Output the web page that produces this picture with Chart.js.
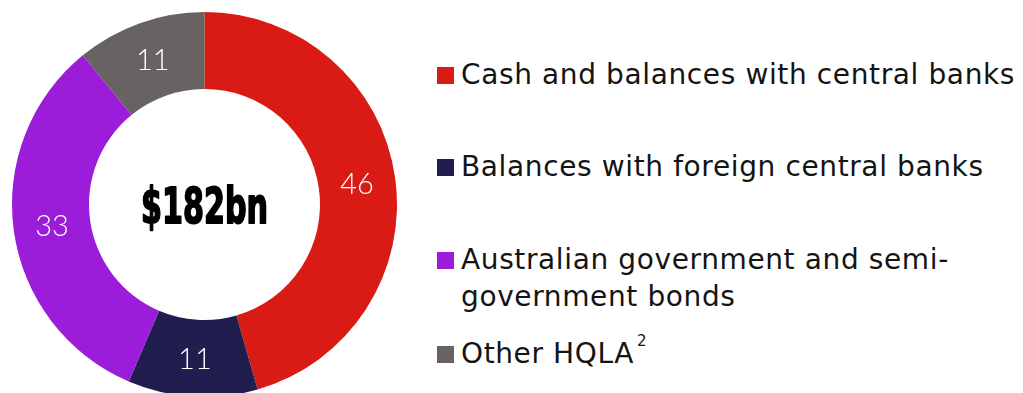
<!DOCTYPE html>
<html>
<head>
<meta charset="utf-8">
<script src="https://cdn.jsdelivr.net/npm/chart.js@4/dist/chart.umd.min.js"></script>
<style>
  html, body { margin: 0; padding: 0; background: #ffffff; }
  #stage { position: relative; width: 1023px; height: 393px; overflow: hidden; background: #fff; }
  #chartBox { position: absolute; left: 0; top: 0; width: 409px; height: 409px; }
  .sw { position: absolute; left: 437px; width: 17px; height: 17px; }
  .txt { position: absolute; left: 461px; width: 562px; font-family: "DejaVu Sans", sans-serif; font-size: 28px; letter-spacing: 0.62px; line-height: 37px; color: #141414; white-space: normal; }
  .txt sup { font-size: 15px; position: relative; top: -6px; margin-left: 3px; vertical-align: super; line-height: 0; letter-spacing: 0; }
</style>
</head>
<body>
<div id="stage">
  <div id="chartBox"><canvas id="c" width="409" height="409"></canvas></div>
  <div id="legend"></div>
</div>
<script>
const categories = [
  'Cash and balances with central banks',
  'Balances with foreign central banks',
  'Australian government and semi-government bonds',
  'Other HQLA'
];
const footnotes = ['', '', '', '2'];
const values = [46, 11, 33, 11];
const colors = ['#DA1A14', '#201D4F', '#9B1CD9', '#686262'];
const centerLabel = '$182bn';

// Legend (HTML, real text)
const legendBaselines = [84, 176, 269, 363];
const legend = document.getElementById('legend');
categories.forEach((cat, i) => {
  const sw = document.createElement('div');
  sw.className = 'sw';
  sw.style.background = colors[i];
  sw.style.top = (legendBaselines[i] - 17) + 'px';
  legend.appendChild(sw);
  const t = document.createElement('div');
  t.className = 'txt';
  t.style.top = (legendBaselines[i] - 28.2) + 'px';
  t.textContent = cat;
  if (footnotes[i]) {
    const s = document.createElement('sup');
    s.textContent = footnotes[i];
    t.appendChild(s);
  }
  legend.appendChild(t);
});

const labelPlugin = {
  id: 'labels',
  afterDatasetsDraw(chart) {
    const ctx = chart.ctx;
    const meta = chart.getDatasetMeta(0);
    ctx.save();
    ctx.fillStyle = '#ffffff';
    ctx.textAlign = 'center';
    ctx.textBaseline = 'alphabetic';
    ctx.font = '300 29px Lato, "Open Sans", sans-serif';
    meta.data.forEach((arc, i) => {
      const p = arc.getCenterPoint();
      const txt = String(values[i]);
      const m = ctx.measureText(txt);
      const h = m.actualBoundingBoxAscent;
      ctx.fillText(txt, p.x, p.y + h / 2);
    });
    // center text
    const cx = (chart.chartArea.left + chart.chartArea.right) / 2;
    const cy = (chart.chartArea.top + chart.chartArea.bottom) / 2;
    ctx.fillStyle = '#000000';
    ctx.strokeStyle = '#000000';
    ctx.font = 'bold 53px "Liberation Sans Narrow", "DejaVu Sans Condensed", "Liberation Sans", sans-serif';
    const m = ctx.measureText(centerLabel);
    const targetW = 127;
    const sx = targetW / m.width;
    const capH = ctx.measureText('182').actualBoundingBoxAscent;
    const sy = 37 / capH;
    ctx.translate(cx, cy + 18);
    ctx.scale(sx, sy);
    ctx.textAlign = 'center';
    ctx.lineWidth = 2;
    ctx.lineJoin = 'round';
    ctx.strokeText(centerLabel, 0, 0);
    ctx.fillText(centerLabel, 0, 0);
    ctx.restore();
  }
};

new Chart(document.getElementById('c'), {
  type: 'doughnut',
  data: {
    labels: categories,
    datasets: [{
      data: values,
      backgroundColor: colors,
      borderWidth: 0
    }]
  },
  options: {
    responsive: false,
    animation: false,
    cutout: '60%',
    layout: { padding: 12 },
    plugins: {
      legend: { display: false },
      tooltip: { enabled: false }
    }
  },
  plugins: [labelPlugin]
});
</script>
</body>
</html>
